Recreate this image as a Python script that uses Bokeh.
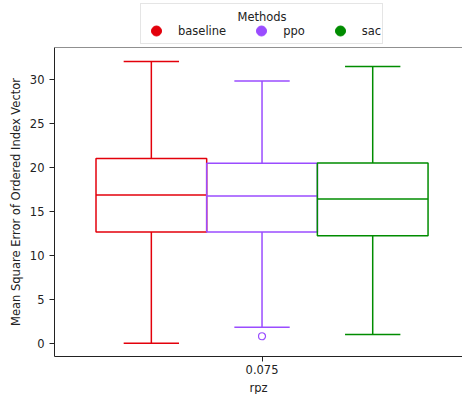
from bokeh.plotting import figure
from bokeh.layouts import column
from bokeh.models import Range1d, FixedTicker, Span, Legend, LegendItem, Label, ColumnDataSource
from bokeh.embed import file_html
from bokeh.resources import INLINE

methods = ["baseline", "ppo", "sac"]
colors = ["#e3000b", "#9a4cff", "#008c00"]
category = "0.075"
q1 = [12.63, 12.63, 12.22]
median = [16.84, 16.72, 16.38]
q3 = [21.0, 20.44, 20.48]
whisk_lo = [0.0, 1.82, 1.0]
whisk_hi = [32.0, 29.8, 31.45]
outliers = [[], [0.8], []]
y_ticks = [0, 5, 10, 15, 20, 25, 30]

FONT = "DejaVu Sans"
FS = "11.5px"
y_lo, y_hi = -1.5, 33.6
xr = Range1d(-0.5, 0.483)

n = len(methods)
group = 0.8
w = group / n
xs = [-group / 2 + w * (i + 0.5) for i in range(n)]

# ---------- legend strip (top) ----------
top = figure(frame_width=408, frame_height=47, output_backend="svg", toolbar_location=None,
             x_range=xr, y_range=Range1d(0, 47), x_axis_type=None, y_axis_type=None,
             min_border_left=54, min_border_right=0, min_border_top=0, min_border_bottom=0)
top.outline_line_color = None
top.grid.visible = False

items = []
for i in range(n):
    r = top.scatter(x=[xs[i]], y=[median[i]], marker="circle", size=10,
                    fill_color=colors[i], line_color=colors[i], visible=False)
    items.append(LegendItem(label=methods[i], renderers=[r]))
legend = Legend(items=items, orientation="horizontal", location=(86, 3),
                title="Methods", title_text_alpha=0, title_text_font=FONT, title_text_font_size=FS,
                title_standoff=0,
                label_text_font=FONT, label_text_font_size=FS, label_text_color="#222222",
                glyph_width=30, glyph_height=25, label_standoff=7, spacing=20, padding=0,
                margin=0, border_line_color="#cccccc", border_line_width=1,
                background_fill_alpha=0, inactive_fill_alpha=0)
top.add_layout(legend, "center")
top.add_layout(Label(x=0.0, y=31, text="Methods",
                     text_font=FONT, text_font_size=FS, text_color="#222222",
                     text_align="center", text_baseline="middle", level="overlay"))

# ---------- main plot ----------
p = figure(frame_width=408, frame_height=309, output_backend="svg", toolbar_location=None,
           x_range=xr, y_range=Range1d(y_lo, y_hi),
           min_border_left=54, min_border_right=0, min_border_top=0, min_border_bottom=38)
p.outline_line_color = None
p.grid.visible = False
p.background_fill_color = "white"

for i in range(n):
    c = colors[i]
    x = xs[i]
    src = ColumnDataSource(dict(x=[x], q1=[q1[i]], q3=[q3[i]], med=[median[i]],
                                lo=[whisk_lo[i]], hi=[whisk_hi[i]],
                                x0=[x - w / 2], x1=[x + w / 2],
                                c0=[x - w / 4], c1=[x + w / 4]))
    p.vbar(x="x", width=w, top="q3", bottom="q1", source=src, fill_color=None, line_color=c, line_width=1.5)
    p.segment(x0="x0", x1="x1", y0="med", y1="med", source=src, line_color=c, line_width=1.5)
    p.segment(x0="x", x1="x", y0="q3", y1="hi", source=src, line_color=c, line_width=1.5)
    p.segment(x0="x", x1="x", y0="q1", y1="lo", source=src, line_color=c, line_width=1.5)
    p.segment(x0="c0", x1="c1", y0="hi", y1="hi", source=src, line_color=c, line_width=1.5)
    p.segment(x0="c0", x1="c1", y0="lo", y1="lo", source=src, line_color=c, line_width=1.5)
    if outliers[i]:
        p.scatter(x=[x] * len(outliers[i]), y=outliers[i], marker="circle", size=7,
                  fill_color=None, line_color=c, line_width=1.2)

# top spine
p.add_layout(Span(location=y_hi, dimension="width", line_color="#222222", line_width=1.2))

p.xaxis.ticker = FixedTicker(ticks=[0])
p.xaxis.major_label_overrides = {0: category}
p.yaxis.ticker = FixedTicker(ticks=y_ticks)
for ax in (p.xaxis[0], p.yaxis[0]):
    ax.minor_tick_line_color = None
    ax.axis_line_color = "#222222"
    ax.major_tick_line_color = "#222222"
    ax.major_tick_out = 5
    ax.major_tick_in = 0
    ax.major_label_text_font = FONT
    ax.major_label_text_font_size = FS
    ax.major_label_text_color = "#222222"
    ax.axis_label_text_font = FONT
    ax.axis_label_text_font_size = FS
    ax.axis_label_text_font_style = "normal"
    ax.axis_label_text_color = "#222222"
    ax.major_label_standoff = 5
    ax.axis_label_standoff = 4
p.xaxis.major_label_standoff = 3
p.xaxis.axis_label_standoff = 4
p.xaxis.axis_label = "rpz"
p.yaxis.axis_label = "Mean Square Error of Ordered Index Vector"

layout = column(top, p, spacing=0)
open("out.html", "w").write(file_html(layout, INLINE))
